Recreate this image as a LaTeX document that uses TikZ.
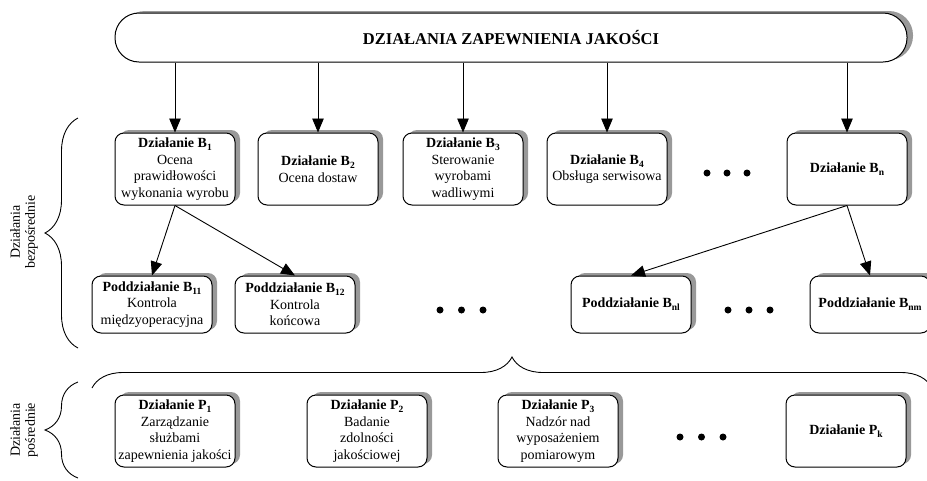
\documentclass[tikz,border=0pt]{standalone}
\usepackage{fontspec}
\setmainfont{Liberation Serif}
\usetikzlibrary{arrows.meta,shadows,decorations.pathreplacing}

% lowered subscript for activity indices
\newcommand{\idx}[1]{\raisebox{-3pt}{\fontsize{9.5}{9.5}\selectfont #1}}

\tikzset{
  act/.style={draw, line width=1pt, fill=white, rounded corners=9pt,
    minimum width=120pt, minimum height=72pt, align=center, inner sep=1pt,
    font=\fontsize{14}{16.5}\selectfont,
    drop shadow={shadow xshift=5pt, shadow yshift=3pt, fill=black!40, opacity=1}},
  subact/.style={act, minimum height=57pt},
  headbox/.style={draw, line width=1pt, fill=white, rounded corners=24pt,
    minimum width=792pt, minimum height=49pt,
    font=\fontsize{16.5}{18}\selectfont\bfseries,
    drop shadow={shadow xshift=6pt, shadow yshift=2pt, fill=black!40, opacity=1}},
  arr/.style={line width=0.9pt, -{Triangle[length=14pt,width=11.5pt]}},
  brace/.style={decorate, decoration={brace, amplitude=#1}, line width=0.9pt},
  sidelabel/.style={rotate=90, align=center, font=\fontsize{14}{15}\selectfont},
}

\begin{document}
\begin{tikzpicture}[x=1pt, y=-1pt]
  \useasboundingbox (0,0) rectangle (927,480);

  % overall heading
  \node[headbox] (top) at (511,37.5) {DZIAŁANIA ZAPEWNIENIA JAKOŚCI};

  % direct activities, first level
  \node[act] (b1) at (175,169) {\textbf{Działanie B\idx{1}}\\Ocena\\prawidłowości\\wykonania wyrobu};
  \node[act] (b2) at (318,169) {\textbf{Działanie B\idx{2}}\\Ocena dostaw};
  \node[act] (b3) at (463,169) {\textbf{Działanie B\idx{3}}\\Sterowanie\\wyrobami\\wadliwymi};
  \node[act] (b4) at (607,169) {\textbf{Działanie B\idx{4}}\\Obsługa serwisowa};
  \node[act] (bn) at (847,169) {\textbf{Działanie B\idx{n}}};

  % direct activities, second level
  \node[subact] (b11) at (152,304.5) {\textbf{Poddziałanie B\idx{11}}\\Kontrola\\międzyoperacyjna};
  \node[subact] (b12) at (295,304.5) {\textbf{Poddziałanie B\idx{12}}\\Kontrola\\końcowa};
  \node[subact] (bn1) at (631,304.5) {\textbf{Poddziałanie B\idx{nl}}};
  \node[subact] (bnm) at (870,304.5) {\textbf{Poddziałanie B\idx{nm}}};

  % indirect activities
  \node[act] (p1) at (175,431) {\textbf{Działanie P\idx{1}}\\Zarządzanie\\służbami\\zapewnienia jakości};
  \node[act] (p2) at (367,431) {\textbf{Działanie P\idx{2}}\\Badanie\\zdolności\\jakościowej};
  \node[act] (p3) at (558,431) {\textbf{Działanie P\idx{3}}\\Nadzór nad\\wyposażeniem\\pomiarowym};
  \node[act] (pk) at (846,431) {\textbf{Działanie P\idx{k}}};

  % connectors
  \foreach \n in {b1,b2,b3,b4,bn}
    \draw[arr] (\n.north |- top.south) -- (\n.north);
  \draw[arr] (b1.south) -- (b11.north);
  \draw[arr] (b1.south) -- (b12.north);
  \draw[arr] (bn.south) -- (bn1.north);
  \draw[arr] (bn.south) -- (bnm.north);

  % ellipses
  \foreach \x in {707,727,747} \fill (\x,173) circle (3.5pt);
  \foreach \x in {440,461.5,483} \fill (\x,310) circle (3.5pt);
  \foreach \x in {728,749,770} \fill (\x,310) circle (3.5pt);
  \foreach \x in {680,701.5,723} \fill (\x,437) circle (3.5pt);

  % braces
  \draw[brace=33pt] (78,348) -- (78,118);
  \draw[brace=33pt] (78,478) -- (78,382);
  \draw[brace=31pt] (92,388) -- (932,388);

  % side labels
  \node[sidelabel] (lbd) at (24,232) {Działania\\bezpośrednie};
  \node[sidelabel] (lbp) at (24,430) {Działania\\pośrednie};
\end{tikzpicture}
\end{document}
